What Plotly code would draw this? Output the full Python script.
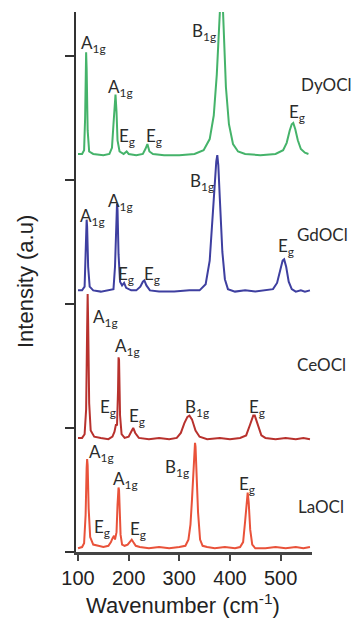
import plotly.graph_objects as go

# ---- data (wavenumber cm^-1, offset intensity a.u.) ----
la_x = [100, 108, 112, 115, 117, 118, 119, 121, 124, 130, 140, 150, 160, 165, 168, 171, 173, 176, 178, 180, 181, 182, 184, 187, 192, 198, 203, 206, 209, 214, 222, 240, 260, 280, 300, 312, 318, 322, 325, 328, 330, 331, 332, 334, 337, 341, 346, 355, 370, 390, 410, 420, 426, 430, 433, 435, 437, 440, 444, 450, 470, 490, 510, 530, 545, 558]
la_y = [0.03, 0.04, 0.07, 0.30, 0.68, 0.75, 0.70, 0.35, 0.12, 0.06, 0.05, 0.04, 0.05, 0.08, 0.11, 0.13, 0.10, 0.16, 0.38, 0.52, 0.50, 0.38, 0.14, 0.06, 0.05, 0.06, 0.09, 0.10, 0.08, 0.05, 0.04, 0.03, 0.04, 0.03, 0.04, 0.05, 0.10, 0.22, 0.42, 0.72, 0.86, 0.88, 0.85, 0.65, 0.32, 0.10, 0.05, 0.04, 0.03, 0.04, 0.03, 0.04, 0.08, 0.25, 0.42, 0.48, 0.40, 0.18, 0.06, 0.03, 0.03, 0.04, 0.03, 0.04, 0.03, 0.04]

ce_x = [100, 108, 113, 116, 118, 119, 120, 122, 125, 132, 145, 160, 168, 172, 175, 177, 179, 180, 181, 183, 186, 192, 200, 205, 209, 213, 220, 240, 260, 280, 295, 303, 310, 316, 320, 325, 332, 340, 355, 380, 400, 420, 432, 440, 446, 449, 455, 462, 470, 490, 510, 530, 545, 558]
ce_y = [0.92, 0.92, 0.95, 1.15, 1.80, 2.08, 1.85, 1.20, 0.98, 0.93, 0.92, 0.91, 0.93, 0.97, 1.03, 1.02, 1.30, 1.57, 1.55, 1.10, 0.95, 0.92, 0.93, 0.97, 1.00, 0.96, 0.92, 0.91, 0.92, 0.91, 0.92, 0.96, 1.04, 1.09, 1.10, 1.07, 0.98, 0.93, 0.91, 0.92, 0.91, 0.92, 0.94, 1.03, 1.10, 1.10, 1.03, 0.94, 0.92, 0.91, 0.92, 0.91, 0.92, 0.91]

gd_x = [100, 108, 113, 115, 117, 118, 120, 123, 130, 145, 160, 170, 173, 175, 177, 178, 180, 183, 187, 191, 195, 205, 215, 223, 228, 231, 235, 242, 260, 290, 320, 340, 352, 360, 366, 370, 373, 375, 377, 380, 385, 390, 396, 410, 430, 450, 470, 485, 493, 499, 504, 507, 511, 516, 522, 530, 540, 548, 558]
gd_y = [2.11, 2.11, 2.14, 2.35, 2.68, 2.62, 2.30, 2.14, 2.11, 2.10, 2.11, 2.12, 2.30, 2.70, 2.81, 2.76, 2.40, 2.18, 2.15, 2.17, 2.13, 2.11, 2.11, 2.14, 2.18, 2.19, 2.15, 2.11, 2.10, 2.10, 2.11, 2.11, 2.16, 2.35, 2.70, 3.00, 3.15, 3.20, 3.12, 2.85, 2.42, 2.20, 2.12, 2.10, 2.11, 2.10, 2.11, 2.12, 2.17, 2.27, 2.35, 2.36, 2.30, 2.18, 2.12, 2.10, 2.11, 2.10, 2.11]

dy_x = [100, 108, 112, 114, 116, 117, 119, 122, 130, 150, 162, 167, 170, 172, 174, 176, 178, 182, 190, 196, 200, 215, 228, 233, 237, 241, 248, 270, 300, 330, 348, 360, 368, 374, 378, 381, 383, 385, 388, 392, 398, 406, 416, 430, 460, 490, 505, 512, 518, 522, 525, 529, 534, 540, 548, 555]
dy_y = [3.21, 3.21, 3.24, 3.50, 4.03, 3.90, 3.40, 3.23, 3.21, 3.20, 3.21, 3.26, 3.45, 3.62, 3.69, 3.55, 3.32, 3.23, 3.21, 3.23, 3.21, 3.20, 3.21, 3.25, 3.29, 3.23, 3.21, 3.20, 3.20, 3.21, 3.24, 3.33, 3.52, 3.85, 4.20, 4.50, 4.60, 4.50, 4.15, 3.75, 3.45, 3.29, 3.23, 3.21, 3.20, 3.21, 3.24, 3.30, 3.40, 3.45, 3.46, 3.41, 3.32, 3.25, 3.22, 3.21]

x_ticks = [100, 200, 300, 400, 500]
y_ticks = [0, 1, 2, 3, 4]
sample_names = ["DyOCl", "GdOCl", "CeOCl", "LaOCl"]

series = [
    (dy_x, dy_y, "#45B36A", "DyOCl"),
    (gd_x, gd_y, "#3E3FA0", "GdOCl"),
    (ce_x, ce_y, "#B8312D", "CeOCl"),
    (la_x, la_y, "#E9523A", "LaOCl"),
]

fig = go.Figure()
for xs, ys, col, name in series:
    fig.add_trace(go.Scatter(x=xs, y=ys, mode="lines", name=name,
                             line=dict(color=col, width=2), showlegend=False))

A = "A<sub>1g</sub>"
B = "B<sub>1g</sub>"
E = "E<sub>g</sub>"
peak_labels = [
    # DyOCl
    (A, 129.6, 4.10), (A, 182.9, 3.74), (E, 196.7, 3.35), (E, 250, 3.35), (B, 348.8, 4.19), (E, 532.4, 3.54),
    # GdOCl
    (A, 127.6, 2.70), (A, 182.9, 2.82), (E, 194.7, 2.23), (E, 246, 2.23), (B, 344.8, 2.98), (E, 510.7, 2.46),
    # CeOCl
    (A, 153.3, 1.89), (A, 196.7, 1.65), (E, 159.2, 1.16), (E, 216.5, 1.09), (B, 334.9, 1.16), (E, 453.4, 1.16),
    # LaOCl
    (A, 147.3, 0.80), (A, 192.8, 0.58), (E, 147.3, 0.19), (E, 218.4, 0.18), (B, 295.4, 0.68), (E, 433.7, 0.54),
]
annotations = []
for t, x, y in peak_labels:
    annotations.append(dict(text=t, x=x, y=y, xref="x", yref="y", showarrow=False,
                            xanchor="center", yanchor="middle",
                            font=dict(family="Lato", size=17, color="#2b2b2b")))

name_pos = [(537, 3.77), (528, 2.56), (528, 1.51), (530, 0.37)]
for n, (x, y) in zip(sample_names, name_pos):
    annotations.append(dict(text=n, x=x, y=y, xref="x", yref="y", showarrow=False,
                            xanchor="left", yanchor="middle",
                            font=dict(family="Lato", size=17, color="#2b2b2b")))

annotations.append(dict(text="Wavenumber (cm<sup>-1</sup>)", x=0.452, y=-0.096, xref="paper", yref="paper",
                        showarrow=False, xanchor="center", yanchor="middle",
                        font=dict(family="Liberation Sans", size=22, color="#222")))
annotations.append(dict(text="Intensity (a.u)", x=-0.216, y=0.50, xref="paper", yref="paper",
                        showarrow=False, xanchor="center", yanchor="middle", textangle=-90,
                        font=dict(family="Liberation Sans", size=22, color="#222")))

fig.update_layout(
    width=351, height=620,
    margin=dict(l=76, r=39, t=12, b=68),
    paper_bgcolor="white", plot_bgcolor="white",
    annotations=annotations,
    xaxis=dict(range=[96, 562], tickvals=x_ticks, ticks="outside", ticklen=6, tickwidth=2,
               tickcolor="#444", showline=True, linecolor="#444", linewidth=2.5,
               showgrid=False, zeroline=False,
               tickfont=dict(family="Liberation Sans", size=20, color="#222")),
    yaxis=dict(range=[0, 4.355], tickvals=y_ticks, ticks="outside", ticklen=9, tickwidth=1.5,
               tickcolor="#333", showline=True, linecolor="#333", linewidth=1.5,
               showticklabels=False, showgrid=False, zeroline=False),
)

fig.write_html("out.html", config={"displayModeBar": False},
               post_script="document.body.style.margin='0';document.body.style.overflow='hidden';")
